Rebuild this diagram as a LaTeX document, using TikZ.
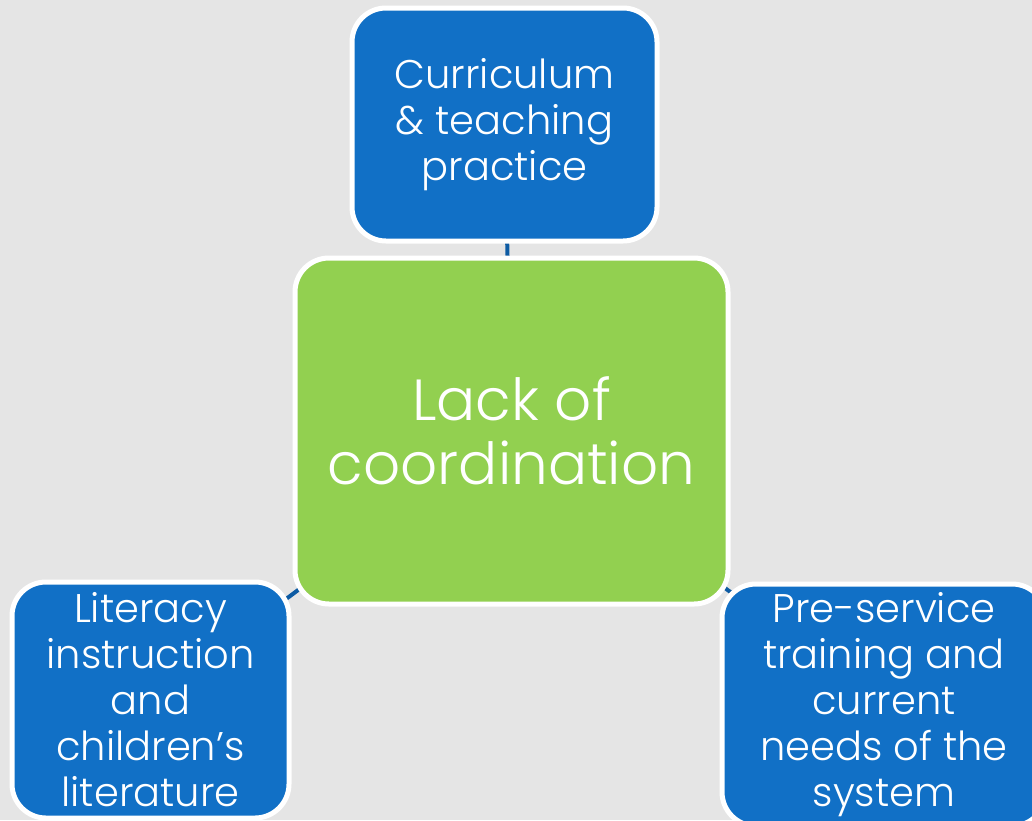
\documentclass[tikz,border=0pt]{standalone}
\usepackage{fontspec}
\setmainfont{Poppins}[UprightFont=* Light]
\usetikzlibrary{backgrounds}
\definecolor{bgc}{HTML}{E5E5E5}
\definecolor{boxblue}{HTML}{1170C6}
\definecolor{boxgreen}{HTML}{92D050}
\definecolor{linkc}{HTML}{0D5BA3}
\tikzset{
  box/.style={draw=white, line width=5pt, rounded corners=34pt, text=white, align=center, inner sep=0pt},
  bluebox/.style={box, fill=boxblue, font=\fontsize{40}{46}\selectfont},
  greenbox/.style={box, fill=boxgreen, font=\fontsize{58}{64}\selectfont},
  link/.style={draw=linkc, line width=4pt}
}
\begin{document}
\begin{tikzpicture}[x=1pt,y=-1pt]
\useasboundingbox (0,0) rectangle (1032,820);
\node[bluebox, minimum width=305pt, minimum height=233pt] (top) at (504.5,124.5) {Curriculum\\\& teaching\\practice};
\node[greenbox, minimum width=433pt, minimum height=346pt] (mid) at (511.5,431) {Lack of\\coordination};
\node[bluebox, minimum width=277pt, minimum height=236pt] (left) at (150.5,700) {Literacy\\instruction\\and\\children’s\\literature};
\node[bluebox, minimum width=324pt, minimum height=242pt] (right) at (884,705) {Pre-service\\training and\\current\\needs of the\\system};
\begin{scope}[on background layer]
\fill[bgc] (0,0) rectangle (1032,820);
\draw[link] (mid.center) -- (top.center);
\draw[link] (mid.center) -- (left.center);
\draw[link] (mid.center) -- (right.center);
\end{scope}
\end{tikzpicture}
\end{document}
